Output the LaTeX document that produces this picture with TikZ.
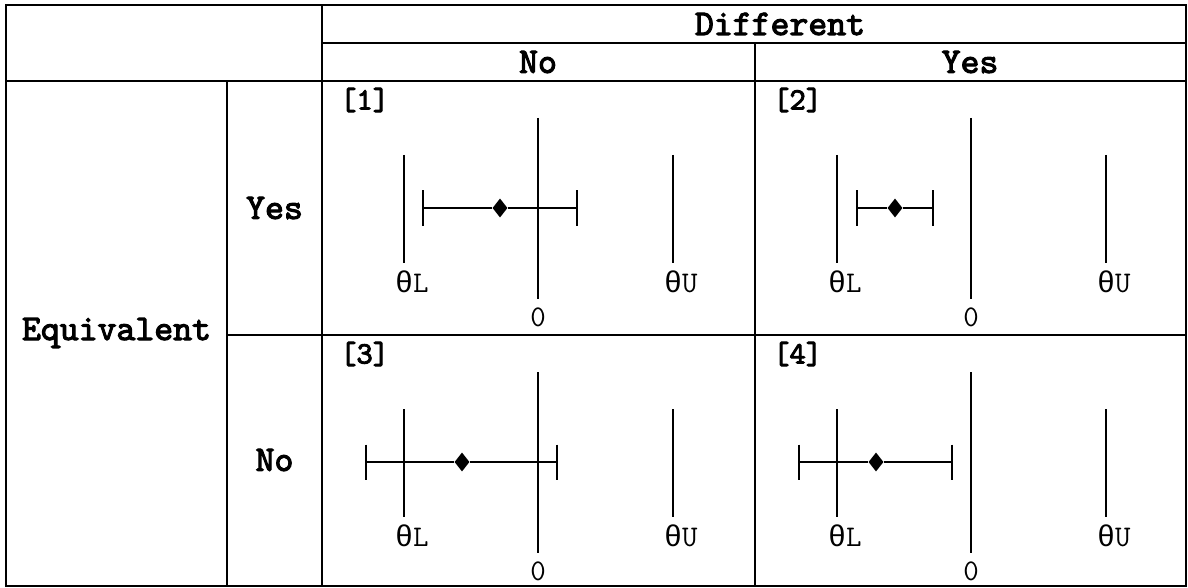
\documentclass[tikz,border=0pt]{standalone}
\usepackage{fontspec}
\newfontfamily\thetafont{Liberation Mono}
\newfontfamily\boldmono{lmmono10-regular.otf}[FakeBold=3]
\usetikzlibrary{shapes.geometric}
\tikzset{
  grid/.style={line width=2pt, line cap=rect},
  plotline/.style={line width=2pt},
  hdr/.style={font=\fontsize{36}{38}\selectfont\boldmono, inner sep=0},
  tag/.style={font=\fontsize{31}{33}\selectfont\boldmono, inner sep=0, anchor=west},
  lab/.style={font=\fontsize{30}{32}\selectfont\ttfamily, inner sep=0},
  est/.style={diamond, fill=black, inner sep=0, minimum width=15pt, minimum height=19pt},
}
\newcommand{\thL}{{\thetafont θ}L}
\newcommand{\thU}{{\thetafont θ}U}
\newcommand{\ciPanel}[7]{%
  % #1 x0, #2 y0, #3 tag, #4 capL, #5 est, #6 capR, #7 id
  \node[tag] (tag#7) at (#1+18,#2+19) {[#3]};
  \coordinate (lt#7) at (#1+82,#2+74);  \coordinate (lb#7) at (#1+82,#2+182);
  \coordinate (zt#7) at (#1+216,#2+37); \coordinate (zb#7) at (#1+216,#2+218);
  \coordinate (ut#7) at (#1+351,#2+74); \coordinate (ub#7) at (#1+351,#2+182);
  \draw[plotline] (lt#7) -- (lb#7);
  \draw[plotline] (zt#7) -- (zb#7);
  \draw[plotline] (ut#7) -- (ub#7);
  \coordinate (cl#7) at (#1+#4,#2+127);
  \coordinate (cr#7) at (#1+#6,#2+127);
  \node[est] (e#7) at (#1+#5,#2+127) {};
  \draw[plotline] (cl#7) -- (e#7.west);
  \draw[plotline] (e#7.east) -- (cr#7);
  \draw[plotline] ([yshift=17.5pt]cl#7) -- ([yshift=-17.5pt]cl#7);
  \draw[plotline] ([yshift=17.5pt]cr#7) -- ([yshift=-17.5pt]cr#7);
  \node[lab, anchor=west] (tl#7) at (#1+82-9,#2+201) {\thL};
  \node[lab, anchor=west] (tu#7) at (#1+351-9,#2+201) {\thU};
  \node[lab] (z#7) at (#1+216,#2+236) {0};
}
\begin{document}
\begin{tikzpicture}[x=1pt,y=-1pt]
\useasboundingbox (0,0) rectangle (1188,588);
\fill[white] (0,0) rectangle (1188,588);
% grid
\draw[grid] (6,5) rectangle (1186,586);
\draw[grid] (322,43) -- (1186,43);
\draw[grid] (6,81) -- (1186,81);
\draw[grid] (227,335) -- (1186,335);
\draw[grid] (322,5) -- (322,586);
\draw[grid] (227,81) -- (227,586);
\draw[grid] (755,43) -- (755,586);
% headers
\node[hdr] (diff) at (780,24) {Different};
\node[hdr] (hno) at (538,62) {No};
\node[hdr] (hyes) at (970,62) {Yes};
\node[hdr] (equiv) at (116.5,333) {Equivalent};
\node[hdr] (ryes) at (274.5,208) {Yes};
\node[hdr] (rno) at (274.5,460) {No};
% panels
\ciPanel{322}{81}{1}{101}{178}{255}{a}
\ciPanel{755}{81}{2}{102}{140}{178}{b}
\ciPanel{322}{335}{3}{44}{140}{235}{c}
\ciPanel{755}{335}{4}{44}{121}{197}{d}
\end{tikzpicture}
\end{document}
